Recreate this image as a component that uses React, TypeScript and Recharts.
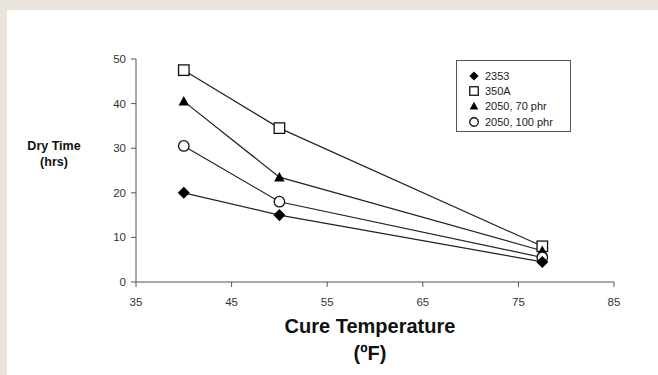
import { LineChart, Line, XAxis, YAxis } from 'recharts';

const temps = [40, 50, 77.5];
const dry2353 = [20, 15, 4.5];
const dry350A = [47.5, 34.5, 8];
const dry2050_70 = [40.5, 23.5, 7];
const dry2050_100 = [30.5, 18, 5.5];

const xTicks = [35, 45, 55, 65, 75, 85];
const yTicks = [0, 10, 20, 30, 40, 50];

const seriesNames = ['2353', '350A', '2050, 70 phr', '2050, 100 phr'];

const data = temps.map((t, i) => ({
  temp: t,
  s2353: dry2353[i],
  s350A: dry350A[i],
  s2050a: dry2050_70[i],
  s2050b: dry2050_100[i],
}));

const font = '"Liberation Sans", Arial, Helvetica, sans-serif';
const ink = '#333';
const lineInk = '#222';

function Marker({ kind, cx, cy, size }: { kind: string; cx: number; cy: number; size: number }) {
  const h = size / 2;
  if (kind === 'diamond') {
    const d = h * 1.15;
    return <path d={`M${cx},${cy - d}L${cx + d},${cy}L${cx},${cy + d}L${cx - d},${cy}Z`} fill="#000" />;
  }
  if (kind === 'square') {
    return <rect x={cx - h} y={cy - h} width={size} height={size} fill="#fff" stroke="#111" strokeWidth={1.3} />;
  }
  if (kind === 'triangle') {
    return <path d={`M${cx},${cy - h}L${cx + h},${cy + h * 0.8}L${cx - h},${cy + h * 0.8}Z`} fill="#000" />;
  }
  return <circle cx={cx} cy={cy} r={h} fill="#fff" stroke="#111" strokeWidth={1.3} />;
}

const kinds = ['diamond', 'square', 'triangle', 'circle'];

const dotFor = (kind: string) => (props: any) => (
  <Marker key={`${kind}-${props.index}`} kind={kind} cx={props.cx} cy={props.cy} size={10.5} />
);

// legend drawn as a plain box over the chart so it doesn't eat plot space
function LegendBox() {
  return (
    <div
      style={{
        position: 'absolute',
        left: 456,
        top: 60,
        border: '1px solid #555',
        width: 115,
        height: 72,
        boxSizing: 'border-box',
        padding: '7px 0 0 11px',
        fontFamily: font,
        fontSize: 11,
        color: '#222',
        background: '#fff',
      }}
    >
      {seriesNames.map((n, i) => (
        <div key={n} style={{ display: 'flex', alignItems: 'center', height: 15.3 }}>
          <svg width={12} height={12} style={{ marginRight: 5 }}>
            <Marker kind={kinds[i]} cx={6} cy={6} size={i === 0 ? 8 : 8.5} />
          </svg>
          <span>{n}</span>
        </div>
      ))}
    </div>
  );
}

const YLabel = () => (
  <text x={54} y={150} textAnchor="middle" fontFamily={font} fontWeight="bold" fontSize={12.5} fill="#111">
    <tspan x={54}>Dry Time</tspan>
    <tspan x={54} dy={16}>(hrs)</tspan>
  </text>
);

const XLabel = () => (
  <text x={370} y={333} textAnchor="middle" fontFamily={font} fontWeight="bold" fontSize={20} fill="#111">
    <tspan x={370}>Cure Temperature</tspan>
    <tspan x={370} dy={27}>(ºF)</tspan>
  </text>
);

export default function App() {
  return (
    <div style={{ position: 'absolute', left: 0, top: 0, width: 658, height: 375, background: '#e9e5dd' }}>
      <div style={{ position: 'absolute', left: 7, top: 10, right: 0, bottom: 0, background: '#fff' }} />
      <div style={{ position: 'absolute', left: 0, top: 0 }}>
        <LineChart width={658} height={375} data={data} margin={{ top: 59, right: 44, bottom: 0, left: 0 }}>
          <XAxis
            dataKey="temp"
            type="number"
            domain={[35, 85]}
            ticks={xTicks}
            height={93}
            stroke="#555"
            tickSize={5}
            tickMargin={11}
            tick={{ fill: ink, fontSize: 11.5, fontFamily: font }}
            label={<XLabel />}
          />
          <YAxis
            type="number"
            domain={[0, 50]}
            ticks={yTicks}
            width={136}
            stroke="#555"
            tickSize={5}
            tickMargin={5}
            tick={{ fill: ink, fontSize: 11.5, fontFamily: font }}
            label={<YLabel />}
          />
          <Line dataKey="s350A" stroke={lineInk} strokeWidth={1.2} dot={dotFor('square')} isAnimationActive={false} />
          <Line dataKey="s2050a" stroke={lineInk} strokeWidth={1.2} dot={dotFor('triangle')} isAnimationActive={false} />
          <Line dataKey="s2050b" stroke={lineInk} strokeWidth={1.2} dot={dotFor('circle')} isAnimationActive={false} />
          <Line dataKey="s2353" stroke={lineInk} strokeWidth={1.2} dot={dotFor('diamond')} isAnimationActive={false} />
        </LineChart>
      </div>
      <LegendBox />
    </div>
  );
}
